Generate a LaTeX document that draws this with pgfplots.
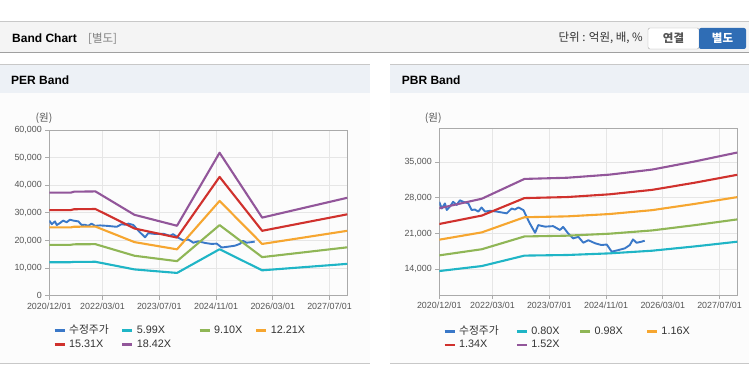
\documentclass[border=0pt]{standalone}
\usepackage{fontspec}
\setmainfont{Liberation Sans}
\newfontfamily\kr{Noto Sans CJK KR}
\usepackage{pgfplots}
\usepackage{pgfplotstable}
\pgfplotsset{compat=1.18}

\definecolor{cBlue}{HTML}{3A78C8}
\definecolor{cCyan}{HTML}{1FB5C6}
\definecolor{cGreen}{HTML}{8FB656}
\definecolor{cOrange}{HTML}{F6A630}
\definecolor{cRed}{HTML}{D0312D}
\definecolor{cPurple}{HTML}{92569A}
\definecolor{cGrid}{HTML}{E6E6E6}
\definecolor{cAxis}{HTML}{AAAAAA}
\definecolor{cTick}{HTML}{555555}
\definecolor{cText}{HTML}{333333}
\definecolor{cHead}{HTML}{F4F4F4}
\definecolor{cPanelHead}{HTML}{EDF1F6}
\definecolor{cPanel}{HTML}{FCFCFC}
\definecolor{cLine}{HTML}{C8C8C8}
\definecolor{cBtn}{HTML}{2F6DB5}

% PER band (months since 2020/12)
\pgfplotstableread{
m a b c d e
0 12130 18430 24730 31000 37300
6 12130 18430 24730 31000 37300
7 12250 18610 24970 31310 37670
13 12280 18660 25030 31390 37760
24 9520 14470 19410 24340 29290
36 8240 12510 16790 21050 25330
48 16830 25570 34310 43020 51760
60 9190 13970 18740 23500 28280
72 10360 15740 21120 26490 31870
84 11530 17520 23500 29470 35460
}\perband

% PBR band
\pgfplotstableread{
m a b c d e
0 13660 16730 19800 22870 25950
12 14640 17930 21230 24520 27820
24 16680 20430 24190 27940 31690
36 16800 20580 24360 28140 31920
48 17120 20970 24820 28680 32530
60 17640 21610 25580 29550 33520
72 18480 22640 26800 30950 35110
84 19400 23770 28130 32500 36860
}\pbrband

% adjusted price
\pgfplotstableread{
m p
0 27200
0.7 25900
1.6 26900
2.1 25600
3.0 26300
3.9 27200
4.9 26600
5.8 27500
6.8 27200
8.2 26900
9.1 25600
10.0 25700
11.0 25300
11.9 26100
12.9 25300
14.3 25450
16.2 25300
19.0 24950
20.4 25900
21.3 25700
22.3 26100
23.7 25600
24.6 24300
25.5 23000
27.0 21150
27.9 22650
29.8 22350
32.1 22450
34.0 21700
34.9 22300
36.3 21050
37.7 20050
39.2 20350
40.6 19200
42.0 19700
43.9 19100
45.7 18750
47.2 18850
48.6 17450
50.4 17750
52.3 18100
53.7 18750
54.6 19850
55.6 19200
57.0 19400
57.9 19600
}\price

\pgfplotsset{bandaxis/.style={
  scale only axis,
  xmin=0, xmax=84,
  xtick={0,15,31,47,63,79},
  xticklabels={2020/12/01,2022/03/01,2023/07/01,2024/11/01,2026/03/01,2027/07/01},
  grid=major,
  grid style={draw=cGrid, line width=0.8pt},
  axis line style={draw=cAxis, line width=0.9pt},
  tick style={draw=cAxis, line width=0.8pt},
  tick align=outside,
  major tick length=4pt,
  xtick pos=bottom, ytick pos=left,
  ticklabel style={font=\fontsize{8.9}{10}\selectfont, text=cTick},
  /pgf/number format/assume math mode=true,
  scaled y ticks=false,
  y tick label style={/pgf/number format/.cd, fixed, precision=0, 1000 sep={,}},
  legend columns=4,
  legend image code/.code={\draw[##1, line width=2.8pt] (0pt,0pt) -- (10pt,0pt);},
  legend style={anchor=north west, draw=none, fill=none, inner sep=0pt, outer sep=0pt,
    column sep=0pt, row sep=3.2pt, font=\fontsize{10.8}{12}\selectfont, text=cText,
    nodes={inner xsep=3pt, inner ysep=0pt, text height=8pt, text depth=2.5pt, anchor=west}},
  every axis plot/.append style={line width=2.1pt, no markers, line join=round},
}}

\begin{document}
\begin{tikzpicture}
\path[use as bounding box] (0,0) rectangle (749pt,364pt);
\fill[white] (0,0) rectangle (749pt,364pt);

% top header bar
\fill[cHead] (0,311.3pt) rectangle (749pt,342pt);
\draw[cLine, line width=1pt] (0,342pt) -- (749pt,342pt);
\draw[cLine!80!black, line width=1pt] (0,311.3pt) -- (749pt,311.3pt);
\node[anchor=west, font=\bfseries\fontsize{12}{14}\selectfont, text=black, inner sep=0pt] at (12pt,325.7pt) {Band Chart};
\node[anchor=west, font=\kr\fontsize{11.5}{13}\selectfont, text=gray, inner sep=0pt] at (88pt,325.7pt) {[별도]};
\node[anchor=east, font=\kr\fontsize{11.5}{13}\selectfont, text=cText, inner sep=0pt] at (643pt,325.7pt) {단위 : 억원, 배, \%};
\filldraw[fill=white, draw=cAxis, rounded corners=2pt] (648pt,315pt) rectangle (699pt,336pt);
\node[font=\kr\bfseries\fontsize{11.5}{13}\selectfont, text=cTick] at (673.5pt,325.5pt) {연결};
\fill[cBtn, rounded corners=2pt] (699pt,315pt) rectangle (746pt,336pt);
\node[font=\kr\bfseries\fontsize{11.5}{13}\selectfont, text=white] at (722.5pt,325.5pt) {별도};

% left panel
\fill[cPanel] (0,0.7pt) rectangle (370pt,271.3pt);
\fill[cPanelHead] (0,271.3pt) rectangle (370pt,299.7pt);
\draw[cLine, line width=1pt] (0,299.7pt) -- (370pt,299.7pt);
\draw[cLine, line width=1pt] (0,0.7pt) -- (370pt,0.7pt);
\node[anchor=west, font=\bfseries\fontsize{12}{14}\selectfont, inner sep=0pt] at (11pt,283.3pt) {PER Band};
\node[font=\kr\fontsize{10.5}{12}\selectfont, text=cTick] at (44pt,245.7pt) {(원)};

% right panel
\fill[cPanel] (390pt,0.7pt) rectangle (749pt,271.3pt);
\fill[cPanelHead] (390pt,271.3pt) rectangle (749pt,299.7pt);
\draw[cLine, line width=1pt] (390pt,299.7pt) -- (749pt,299.7pt);
\draw[cLine, line width=1pt] (390pt,0.7pt) -- (749pt,0.7pt);
\node[anchor=west, font=\bfseries\fontsize{12}{14}\selectfont, inner sep=0pt] at (401.7pt,283.3pt) {PBR Band};
\node[font=\kr\fontsize{10.5}{12}\selectfont, text=cTick] at (433.3pt,245.7pt) {(원)};

% PER axis
\begin{axis}[bandaxis, at={(49.3pt,68.3pt)}, anchor=south west,
  width=298pt, height=165.7pt,
  ymin=0, ymax=60000, ytick={0,10000,20000,30000,40000,50000,60000},
  legend style={at={(0.0134,-0.179)}}]
\addplot[cBlue, line width=1.9pt] table[x=m, y=p] {\price};
\addlegendentry{\makebox[49pt][l]{\kr 수정주가}}
\addplot[cCyan] table[x=m, y=a] {\perband};
\addlegendentry{\makebox[58.4pt][l]{5.99X}}
\addplot[cGreen] table[x=m, y=b] {\perband};
\addlegendentry{\makebox[38pt][l]{9.10X}}
\addplot[cOrange] table[x=m, y=c] {\perband};
\addlegendentry{\makebox[40pt][l]{12.21X}}
\addplot[cRed] table[x=m, y=d] {\perband};
\addlegendentry{\makebox[49pt][l]{15.31X}}
\addplot[cPurple] table[x=m, y=e] {\perband};
\addlegendentry{\makebox[58.4pt][l]{18.42X}}
\end{axis}

% PBR axis
\begin{axis}[bandaxis, at={(439.3pt,69pt)}, anchor=south west,
  width=298pt, height=166.7pt,
  ymin=8970, ymax=41600, ytick={14000,21000,28000,35000},
  legend style={at={(0.0134,-0.186)}}]
\addplot[cBlue, line width=1.9pt] table[x=m, y=p] {\price};
\addlegendentry{\makebox[53.4pt][l]{\kr 수정주가}}
\addplot[cCyan] table[x=m, y=a] {\pbrband};
\addlegendentry{\makebox[44.6pt][l]{0.80X}}
\addplot[cGreen] table[x=m, y=b] {\pbrband};
\addlegendentry{\makebox[48pt][l]{0.98X}}
\addplot[cOrange] table[x=m, y=c] {\pbrband};
\addlegendentry{\makebox[40pt][l]{1.16X}}
\addplot[cRed] table[x=m, y=d] {\pbrband};
\addlegendentry{\makebox[53.4pt][l]{1.34X}}
\addplot[cPurple] table[x=m, y=e] {\pbrband};
\addlegendentry{\makebox[44.6pt][l]{1.52X}}
\end{axis}
\end{tikzpicture}
\end{document}
